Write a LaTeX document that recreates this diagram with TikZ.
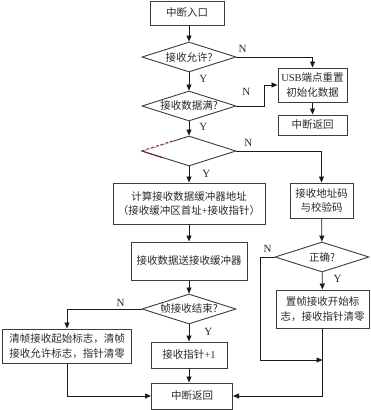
\documentclass[tikz,border=0pt]{standalone}
\usepackage{fontspec}
\setmainfont{Noto Sans CJK SC}
\newfontfamily\lat{Liberation Serif}
\usepackage{xcolor}
\usetikzlibrary{shapes.geometric,arrows.meta,positioning,calc}
\definecolor{flowline}{HTML}{1A1A1A}
\definecolor{flowtext}{HTML}{2A2A2A}
\definecolor{flowred}{HTML}{8B1A2A}

\begin{document}
\begin{tikzpicture}[
    x=1pt,y=-1pt,
    box/.style  = {rectangle,draw=flowline!85,line width=1pt,align=center,inner sep=1pt,
                   text=flowtext,font=\fontsize{10.5}{14.5}\selectfont},
    dec/.style  = {diamond,draw=flowline!85,line width=0.9pt,aspect=3,inner sep=0pt,
                   minimum width=94pt,minimum height=30pt,text=flowtext,
                   font=\fontsize{10.5}{12}\selectfont},
    fl/.style   = {-{Triangle[length=6pt,width=5pt]},flowline,line width=0.8pt},
    yn/.style   = {font=\lat\fontsize{11}{11}\selectfont,text=flowtext,inner sep=1pt},
  ]
  \useasboundingbox (0,0) rectangle (370,410);

  % main column
  \node[box,minimum width=74pt,minimum height=24pt]  (start) at (187,13)    {中断入口};
  \node[dec]  (d1) at (189,57)  {接收允许?};
  \node[dec]  (d2) at (189,106) {接收数据满?};
  \node[dec]  (d3) at (189,151) {};
  \node[box,minimum width=152pt,minimum height=41pt] (calc) at (189,203.5)
       {计算接收数据缓冲器地址\\（接收缓冲区首址{\lat+}接收指针）};
  \node[box,minimum width=116pt,minimum height=38pt] (send) at (189,261) {接收数据送接收缓冲器};
  \node[dec]  (d4) at (189,309) {帧接收结束?};
  \node[box,minimum width=76pt,minimum height=26pt]  (ptr)  at (189,355) {接收指针{\lat+1}};
  \node[box,minimum width=81pt,minimum height=26pt]  (ret)  at (192,396) {中断返回};

  % right column
  \node[box,minimum width=69pt,minimum height=34pt]  (usb)  at (312.5,85)
       {{\lat USB}端点重置\\初始化数据};
  \node[box,minimum width=69pt,minimum height=20pt]  (ret1) at (312.5,125) {中断返回};
  \node[box,minimum width=63pt,minimum height=35pt]  (addr) at (321.5,200.5) {接收地址码\\与校验码};
  \node[dec]  (d5) at (322,257) {正确?};
  \node[box,minimum width=93pt,minimum height=38pt]  (flag) at (322.5,309)
       {置帧接收开始标\\志，接收指针清零};

  % left column
  \node[box,minimum width=129pt,minimum height=34pt] (clr)  at (67,346)
       {清帧接收起始标志，清帧\\接收允许标志，指针清零};

  \coordinate (jn) at (flag.south |- 0,360);

  % odd red edge on the empty decision
  \draw[white,line width=1.3pt] (d3.west) -- ($(d3.west)!0.65!(d3.north)$);
  \draw[flowred,dashed,dash pattern=on 3pt off 2pt,line width=0.8pt]
       (d3.west) -- ($(d3.west)!0.65!(d3.north)$);
  \draw[flowred,line width=0.8pt] (d3.west) -- ($(d3.west)!0.45!(d3.south)$);

  \draw[fl] (start.south -| d1) -- (d1);
  \draw[fl] (d1) -- node[yn,right=9pt,pos=0.35] {Y} (d2);
  \draw[fl] (d1.east) -- node[yn,above=3pt,pos=0.08] {N} (d1.east -| usb) -- (usb);
  \draw[fl] (d2.east) -- node[yn,above=9pt,pos=0.35] {N} ++(28,0) |- (usb.west);
  \draw[fl] (usb) -- (ret1);
  \draw[fl] (d2) -- node[yn,right=9pt,pos=0.4] {Y} (d3);
  \draw[fl] (d3.east) -- node[yn,above=3pt,pos=0.14] {N} (d3.east -| addr) -- (addr);
  \draw[fl] (d3) -- node[yn,right=12pt,pos=0.45] {Y} (calc);
  \draw[fl] (calc) -- (send);
  \draw[fl] (send) -- (d4);
  \draw[fl] (d4.west) -- node[yn,above=1pt,pos=0.28] {N} (d4.west -| clr) -- (clr);
  \draw[fl] (d4) -- node[yn,right=14pt,pos=0.45] {Y} (ptr);
  \draw[fl] (ptr) -- (ptr |- ret.north);
  \draw[fl] (clr.south) |- (ret.west);
  \draw[fl] (addr) -- (d5);
  \draw[fl] (d5) -- node[yn,right=10pt,pos=0.4] {Y} (flag);
  \draw[fl] (d5.west) -- node[yn,above=3pt,pos=0.5] {N} ++(-14,0) |- (jn);
  \draw[fl] (flag.south) |- (ret.east);

\end{tikzpicture}
\end{document}
